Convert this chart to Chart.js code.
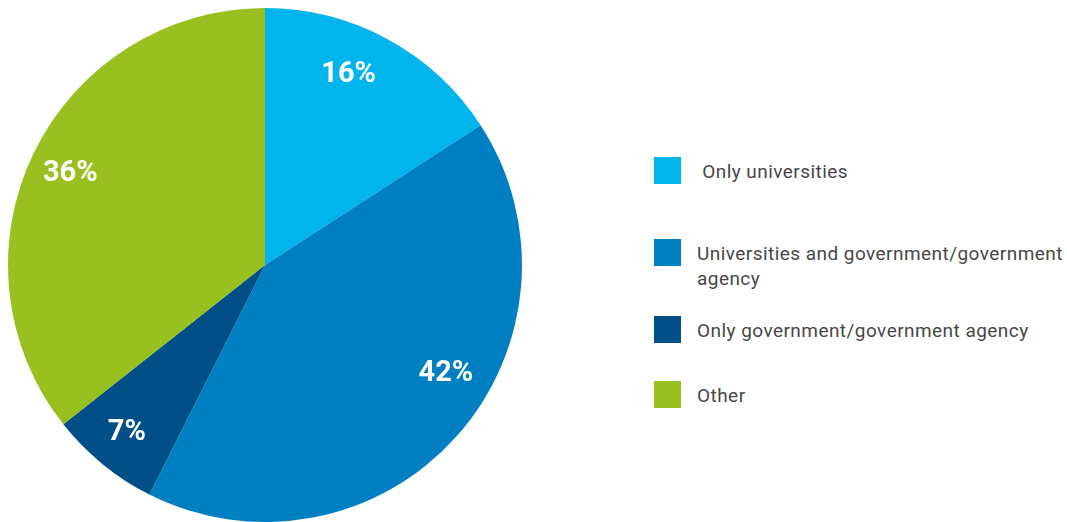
<!DOCTYPE html>
<html>
<head>
<meta charset="utf-8">
<script src="https://cdn.jsdelivr.net/npm/chart.js@4"></script>
<style>
  html, body { margin: 0; padding: 0; background: #fff; overflow: hidden; }
  body { width: 1067px; height: 522px; position: relative; }
  #pieBox { position: absolute; left: 0; top: 0; width: 530px; height: 530px; }
  #legend { position: absolute; left: 654px; top: 0; width: 413px;
    font-family: Roboto, "Open Sans", sans-serif; font-size: 19px; letter-spacing: 0.45px; color: #474747; }
  .item { position: absolute; left: 0; display: flex; align-items: flex-start; }
  .box { width: 27px; height: 27px; flex: none; }
  .txt { margin-left: 16px; line-height: 25px; margin-top: 2px; width: 372px; white-space: pre-wrap; }
</style>
</head>
<body>
<div id="pieBox"><canvas id="pie"></canvas></div>
<div id="legend"></div>
<script>
const categories = [
  " Only universities",
  "Universities and government/government agency",
  "Only government/government agency",
  "Other",
];
const shares = [16, 42, 7, 36];
const colors = ["#00b4ec", "#0080c3", "#004f87", "#98c11f"];

// legend rows are spaced unevenly in the original
const legendTops = [157, 239, 316, 381];
// small nudges so the labels sit where the original has them
const labelNudge = [[-17, -5], [24, -32], [-5, 4], [-5, 1]];

const legend = document.getElementById("legend");
categories.forEach((name, i) => {
  const row = document.createElement("div");
  row.className = "item";
  row.style.top = legendTops[i] + "px";
  row.innerHTML = '<div class="box" style="background:' + colors[i] + '"></div>' +
    '<div class="txt"></div>';
  row.querySelector(".txt").textContent = name;
  legend.appendChild(row);
});

// white percentage labels inside the slices
const sliceLabels = {
  id: "sliceLabels",
  afterDatasetsDraw(chart) {
    const ctx = chart.ctx;
    const meta = chart.getDatasetMeta(0);
    ctx.save();
    ctx.fillStyle = "#fff";
    ctx.font = "bold 29px Roboto, 'Open Sans', sans-serif";
    ctx.textAlign = "center";
    ctx.textBaseline = "middle";
    meta.data.forEach((arc, i) => {
      const p = arc.getProps(["x", "y", "startAngle", "endAngle", "outerRadius"], true);
      const mid = (p.startAngle + p.endAngle) / 2;
      const r = p.outerRadius * 0.82;
      const x = p.x + Math.cos(mid) * r + labelNudge[i][0];
      const y = p.y + Math.sin(mid) * r + labelNudge[i][1];
      ctx.fillText(shares[i] + "%", x, y);
    });
    ctx.restore();
  },
};

new Chart(document.getElementById("pie").getContext("2d"), {
  type: "pie",
  data: {
    labels: categories,
    datasets: [{
      data: shares,
      backgroundColor: colors,
      borderWidth: 0,
    }],
  },
  options: {
    responsive: true,
    maintainAspectRatio: false,
    animation: false,
    layout: { padding: 8 },
    plugins: {
      legend: { display: false },
      tooltip: { enabled: false },
    },
  },
  plugins: [sliceLabels],
});
</script>
</body>
</html>
